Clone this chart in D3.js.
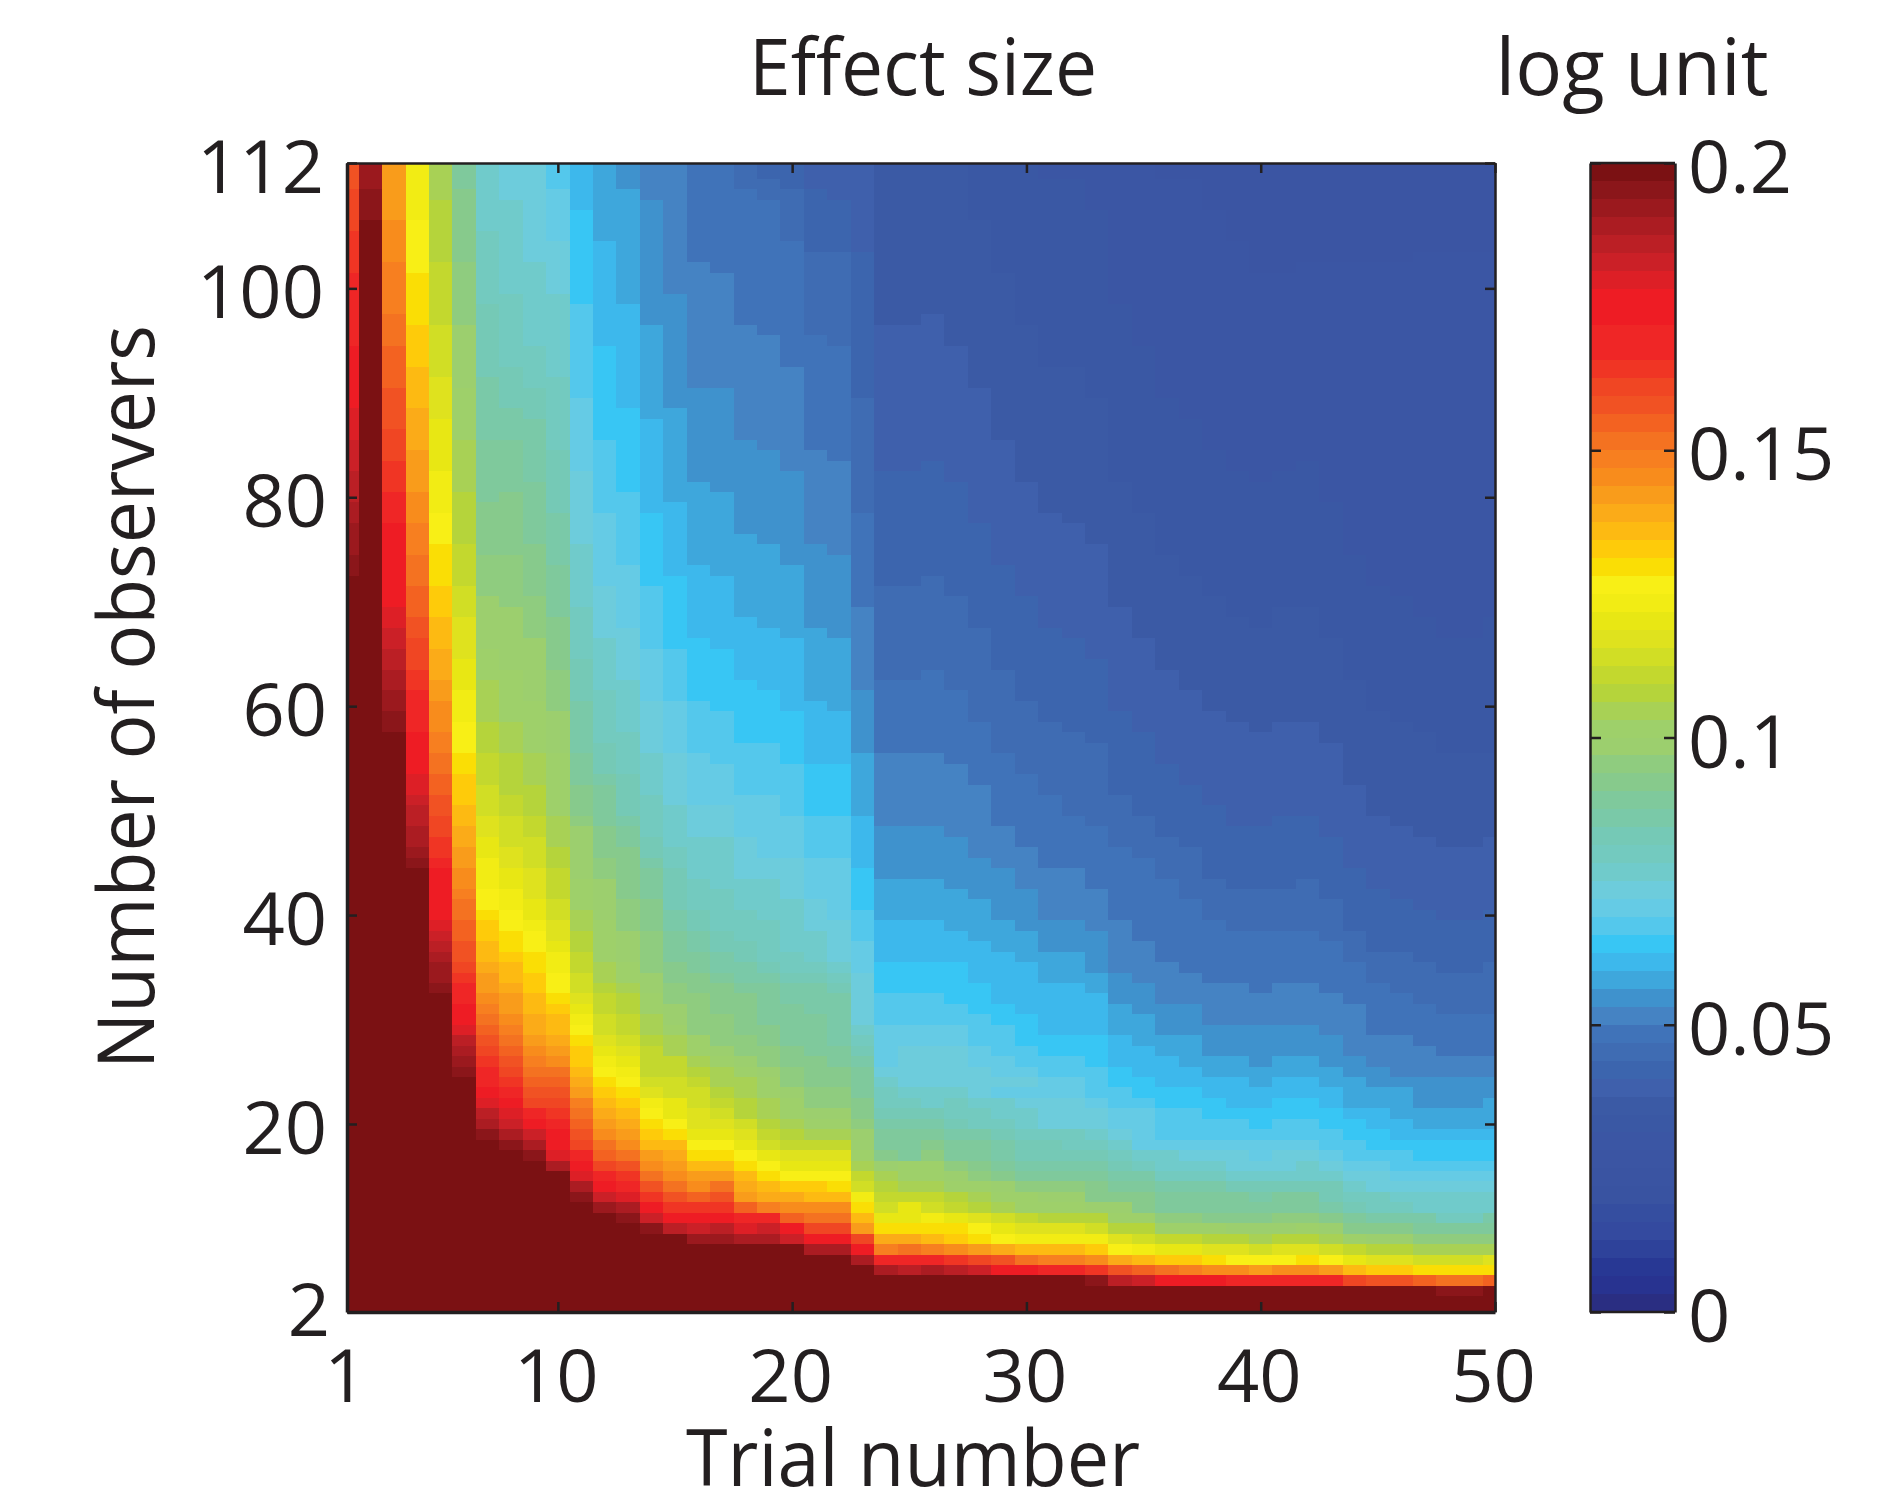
<!DOCTYPE html>
<html>
<head>
<meta charset="utf-8">
<script src="https://cdn.jsdelivr.net/npm/d3@7"></script>
<style>
  body { margin: 0; background: #fff; }
  text { font-family: "Open Sans", sans-serif; fill: #231f20; }
</style>
</head>
<body>
<script>
const xTicks = [1, 10, 20, 30, 40, 50];
const yTicks = [2, 20, 40, 60, 80, 100, 112];
const barTicks = [0, 0.05, 0.1, 0.15, 0.2];

// 64 colour steps of the bar, bottom to top
const barColors = [
  "#2a2e82", "#283390", "#283894", "#2e429a", "#344a9f", "#354ea0", "#3953a1", "#3a54a2",
  "#3b55a3", "#3b56a4", "#3a58a4", "#3b5aa5", "#3f60ac", "#3c65ae", "#3f6cb3", "#4073b9",
  "#4583c3", "#3f92cd", "#3ea7dc", "#3db8ec", "#38c6f4", "#54c8ec", "#65cbe5", "#6dccdc",
  "#70cbcb", "#73cabf", "#75c9b6", "#7ac9a8", "#7fc99c", "#87ca8c", "#8fcc7f", "#9ccf6e",
  "#9ed06a", "#a8d155", "#b5d43b", "#c3d82e", "#d1de25", "#dfe21e", "#e8e714", "#f2ec14",
  "#f8ef16", "#fade05", "#fecb0a", "#fdba12", "#fbab18", "#f99c1b", "#f88c1c", "#f77f20",
  "#f47221", "#f36221", "#f15223", "#f04623", "#f03524", "#ef2626", "#ef2626", "#ee1c24",
  "#ee1c24", "#dd1f26", "#cb2027", "#bb1f25", "#ab1c22", "#9b191e", "#8b161a", "#7b1113"
];

// trials 1-24: first number is the step at 112 observers, the rest are the
// observer counts where each next step up starts
const earlyTrials = [
  [50, 109, 105, 101, 97, 94, 91, 88, 85, 82, 79, 77, 74, 72],
  [61, 109, 106],
  [45, 106, 102, 97, 94, 90, 86, 83, 80, 78, 77, 75, 69, 67, 65, 63, 61, 59, 57],
  [39, 106, 101, 96, 92, 88, 84, 80, 77, 74, 71, 68, 66, 63, 61, 59, 57, 55, 53, 51, 50, 48, 46, 45, 44],
  [33, 108, 102, 96, 91, 87, 82, 78, 75, 71, 68, 65, 62, 60, 57, 55, 53, 51, 49, 47, 45, 44, 44, 41, 39, 38, 37, 36, 35, 33, 32],
  [28, 109, 102, 96, 90, 85, 80, 75, 71, 68, 64, 61, 58, 55, 53, 50, 48, 46, 44, 42, 41, 39, 37, 35, 34, 33, 32, 31, 30, 29, 28, 28, 27, 26, 25, 24],
  [24, 105, 98, 91, 85, 79, 74, 70, 65, 62, 58, 55, 52, 49, 47, 45, 42, 40, 39, 37, 35, 34, 32, 31, 30, 29, 28, 27, 26, 25, 24, 23, 22, 22, 21, 21, 20, 19, 19, 18],
  [23, 108, 99, 92, 88, 85, 80, 74, 69, 63, 58, 55, 51, 49, 46, 44, 42, 40, 38, 36, 35, 33, 32, 30, 29, 28, 27, 26, 25, 24, 23, 22, 22, 21, 21, 20, 19, 19, 18, 18, 17],
  [23, 102, 94, 90, 87, 81, 75, 70, 66, 60, 55, 52, 49, 47, 44, 41, 39, 38, 36, 34, 32, 30, 28, 27, 26, 25, 24, 23, 22, 21, 21, 20, 20, 19, 19, 19, 18, 18, 17, 17, 16],
  [21, 109, 104, 99, 91, 84, 78, 73, 68, 63, 59, 55, 49, 46, 44, 41, 39, 37, 36, 34, 32, 31, 30, 28, 27, 26, 25, 25, 24, 23, 22, 21, 20, 19, 19, 18, 17, 16, 16, 16, 15, 15, 15],
  [19, 107, 98, 89, 82, 75, 69, 64, 60, 55, 52, 49, 48, 43, 40, 38, 36, 34, 32, 31, 30, 29, 28, 27, 25, 24, 23, 22, 22, 21, 20, 19, 18, 17, 17, 16, 16, 15, 15, 14, 14, 14, 13, 13, 12],
  [18, 104, 94, 85, 78, 71, 66, 61, 56, 53, 52, 48, 45, 43, 39, 35, 33, 32, 30, 28, 27, 26, 25, 24, 23, 22, 21, 20, 19, 18, 18, 17, 16, 16, 15, 15, 14, 14, 13, 13, 13, 12, 12, 12, 11, 11],
  [17, 109, 98, 88, 80, 73, 67, 62, 57, 53, 49, 48, 46, 41, 38, 35, 33, 32, 30, 28, 27, 26, 25, 24, 23, 22, 21, 20, 19, 18, 17, 17, 16, 16, 15, 15, 14, 14, 13, 13, 13, 12, 12, 12, 11, 11, 10],
  [16, 108, 96, 87, 78, 71, 65, 60, 55, 51, 47, 45, 44, 41, 38, 34, 32, 30, 28, 27, 24, 23, 22, 22, 21, 20, 19, 18, 17, 17, 16, 15, 15, 14, 14, 13, 13, 12, 12, 12, 11, 11, 11, 10, 10, 10, 10, 9],
  [16, 99, 88, 79, 72, 65, 60, 55, 50, 46, 44, 40, 38, 35, 33, 31, 29, 28, 26, 26, 24, 22, 22, 20, 20, 19, 18, 18, 17, 16, 15, 14, 14, 13, 13, 12, 12, 11, 11, 11, 10, 10, 10, 10, 9, 9, 9, 9],
  [15, 102, 90, 81, 73, 66, 60, 55, 50, 47, 43, 40, 38, 36, 34, 32, 28, 28, 26, 25, 24, 23, 21, 19, 18, 18, 17, 16, 16, 15, 15, 14, 13, 13, 13, 12, 12, 12, 11, 11, 11, 11, 10, 10, 9, 9, 9, 8, 8],
  [15, 101, 90, 80, 72, 65, 59, 54, 50, 47, 42, 38, 36, 34, 33, 30, 27, 26, 25, 23, 22, 21, 20, 19, 18, 18, 17, 16, 16, 15, 15, 14, 14, 14, 13, 13, 12, 12, 11, 11, 11, 10, 10, 10, 10, 9, 9, 8, 8],
  [14, 109, 96, 85, 76, 68, 62, 56, 51, 47, 43, 40, 37, 35, 33, 32, 28, 26, 25, 24, 22, 20, 20, 19, 18, 17, 17, 16, 15, 15, 14, 13, 12, 12, 12, 12, 11, 11, 11, 11, 10, 10, 10, 10, 9, 9, 9, 8, 8, 8],
  [13, 110, 108, 95, 84, 75, 67, 61, 56, 51, 45, 43, 39, 35, 34, 33, 29, 27, 25, 24, 22, 20, 19, 18, 17, 17, 16, 16, 15, 14, 14, 13, 12, 12, 12, 11, 11, 11, 11, 11, 11, 10, 10, 10, 10, 10, 9, 9, 8, 8, 8],
  [13, 109, 104, 92, 82, 73, 66, 59, 54, 49, 45, 41, 36, 34, 33, 31, 27, 25, 23, 22, 20, 19, 18, 17, 17, 16, 15, 15, 14, 14, 13, 13, 12, 12, 11, 11, 11, 10, 10, 10, 10, 10, 10, 10, 9, 9, 8, 8, 8, 8, 8],
  [12, 109, 103, 95, 84, 75, 67, 60, 54, 49, 45, 41, 38, 35, 34, 33, 30, 26, 23, 21, 20, 19, 18, 18, 17, 17, 16, 15, 15, 14, 14, 13, 12, 12, 12, 11, 11, 10, 10, 10, 9, 9, 9, 9, 8, 8, 8, 8, 8, 7, 7, 7],
  [12, 108, 103, 94, 83, 74, 66, 59, 54, 49, 45, 39, 35, 34, 33, 32, 27, 25, 23, 21, 20, 19, 18, 18, 17, 17, 16, 15, 15, 14, 13, 13, 12, 12, 12, 11, 11, 10, 10, 10, 9, 9, 9, 9, 8, 8, 8, 8, 8, 7, 7, 7],
  [12, 103, 89, 78, 69, 61, 55, 49, 44, 40, 37, 34, 29, 28, 27, 26, 25, 22, 20, 19, 17, 16, 15, 15, 14, 13, 13, 13, 12, 12, 11, 11, 10, 10, 9, 9, 9, 9, 9, 9, 8, 8, 8, 8, 7, 7, 7, 7, 7, 6, 6, 6],
  [11, 96, 82, 71, 62, 55, 48, 43, 39, 35, 32, 29, 25, 24, 23, 21, 20, 19, 17, 16, 16, 15, 15, 14, 13, 12, 11, 11, 10, 10, 10, 9, 9, 9, 8, 8, 8, 7, 7, 7, 7, 7, 7, 6, 6, 6, 6, 6, 6, 6, 5, 5, 5]
];

// trials 25-50: for steps 9-23, the highest observer count that is at that step or above
const edge9 = [112, 112, 112, 112, 112, 112, 112, 112, 112, 112, 112, 110, 110, 107, 104, 101, 101, 102, 102, 102, 102, 102, 103, 103, 103, 103];
const edge10 = [112, 112, 112, 112, 112, 112, 110, 110, 107, 98, 94, 89, 87, 84, 82, 81, 82, 83, 79, 74, 71, 70, 68, 66, 66, 68];
const edge11 = [112, 112, 112, 106, 101, 96, 92, 92, 89, 81, 78, 74, 72, 70, 68, 67, 69, 69, 66, 62, 59, 58, 57, 55, 55, 55];
const edge12 = [96, 97, 94, 90, 85, 81, 78, 77, 75, 69, 66, 63, 61, 59, 58, 57, 58, 58, 56, 52, 49, 48, 47, 46, 46, 47];
const edge13 = [82, 83, 81, 77, 73, 70, 67, 66, 64, 59, 57, 54, 52, 50, 48, 48, 49, 49, 47, 44, 42, 41, 40, 39, 39, 40];
const edge14 = [71, 72, 70, 67, 63, 60, 58, 57, 56, 51, 49, 47, 46, 43, 42, 42, 42, 43, 41, 38, 36, 36, 35, 34, 34, 35];
const edge15 = [62, 63, 61, 58, 55, 53, 51, 49, 48, 46, 45, 43, 41, 39, 38, 38, 38, 38, 37, 35, 33, 32, 31, 30, 30, 30];
const edge16 = [55, 55, 54, 52, 48, 46, 44, 44, 42, 39, 37, 35, 34, 33, 33, 32, 33, 33, 32, 31, 28, 28, 27, 26, 26, 26];
const edge17 = [48, 48, 47, 45, 44, 42, 39, 39, 38, 34, 33, 31, 31, 29, 29, 29, 29, 29, 28, 26, 25, 24, 24, 24, 24, 24];
const edge18 = [43, 43, 42, 41, 39, 38, 36, 36, 34, 31, 30, 28, 28, 26, 26, 25, 26, 26, 25, 24, 23, 22, 21, 21, 21, 21];
const edge19 = [39, 39, 38, 37, 36, 35, 33, 33, 32, 28, 27, 26, 25, 24, 24, 23, 24, 24, 23, 22, 22, 20, 19, 19, 19, 19];
const edge20 = [35, 35, 35, 33, 31, 30, 28, 28, 28, 25, 24, 23, 23, 22, 22, 21, 22, 22, 21, 20, 19, 18, 18, 18, 18, 18];
const edge21 = [32, 32, 31, 30, 29, 27, 26, 26, 25, 23, 22, 21, 21, 20, 20, 19, 20, 20, 19, 18, 17, 16, 16, 16, 16, 16];
const edge22 = [29, 29, 29, 27, 26, 25, 24, 24, 23, 22, 21, 20, 20, 19, 19, 18, 19, 19, 18, 17, 16, 15, 15, 15, 15, 15];
const edge23 = [27, 27, 27, 25, 24, 24, 23, 23, 22, 21, 20, 19, 19, 18, 18, 17, 18, 18, 17, 16, 15, 14, 14, 14, 14, 14];
const lateEdges = [edge9, edge10, edge11, edge12, edge13, edge14, edge15, edge16, edge17, edge18, edge19, edge20, edge21, edge22, edge23];

// trials 25-50 for 4 to 23 observers, step per trial
const lateRows = [
  [63, 63, 63, 63, 63, 63, 63, 63, 63, 63, 63, 63, 63, 63, 63, 63, 63, 63, 63, 63, 63, 63, 63, 62, 62, 63],
  [63, 63, 63, 63, 63, 63, 63, 63, 62, 59, 58, 56, 56, 55, 54, 54, 53, 53, 53, 51, 50, 50, 49, 48, 48, 49],
  [59, 60, 59, 58, 56, 55, 54, 53, 52, 50, 49, 48, 47, 46, 46, 45, 46, 46, 45, 43, 42, 42, 41, 41, 41, 41],
  [53, 53, 52, 51, 50, 48, 47, 47, 46, 44, 43, 42, 42, 41, 40, 40, 40, 41, 40, 38, 37, 37, 36, 36, 36, 37],
  [48, 47, 46, 45, 44, 43, 43, 43, 42, 40, 39, 38, 38, 37, 37, 36, 37, 37, 36, 35, 34, 34, 33, 33, 33, 33],
  [44, 43, 42, 41, 40, 39, 39, 39, 39, 37, 36, 35, 35, 34, 34, 33, 34, 34, 33, 32, 31, 31, 30, 30, 30, 30],
  [41, 41, 41, 40, 38, 37, 37, 37, 36, 34, 34, 32, 32, 32, 31, 31, 31, 32, 31, 29, 29, 29, 28, 28, 28, 28],
  [38, 39, 38, 37, 36, 35, 34, 34, 34, 32, 32, 30, 30, 29, 29, 29, 30, 30, 29, 28, 27, 27, 27, 25, 25, 27],
  [38, 36, 35, 34, 33, 32, 32, 32, 31, 31, 29, 28, 28, 28, 28, 28, 28, 28, 27, 26, 25, 25, 24, 24, 24, 24],
  [35, 35, 34, 33, 32, 32, 31, 31, 29, 29, 29, 28, 28, 28, 28, 27, 28, 28, 26, 25, 25, 24, 24, 24, 24, 24],
  [33, 33, 32, 32, 31, 30, 30, 30, 29, 28, 28, 27, 27, 27, 26, 26, 26, 26, 26, 24, 23, 23, 23, 23, 23, 23],
  [32, 32, 31, 30, 29, 28, 28, 28, 28, 27, 27, 25, 25, 25, 24, 24, 24, 24, 24, 23, 23, 22, 22, 22, 22, 22],
  [32, 32, 30, 29, 28, 27, 27, 27, 27, 26, 25, 24, 24, 24, 23, 23, 23, 24, 23, 22, 22, 21, 21, 21, 21, 21],
  [28, 30, 28, 28, 27, 26, 26, 26, 26, 25, 24, 24, 23, 23, 23, 22, 23, 23, 22, 21, 21, 21, 20, 20, 20, 20],
  [28, 29, 28, 28, 27, 26, 26, 25, 25, 24, 22, 22, 22, 22, 22, 22, 22, 22, 21, 21, 20, 20, 20, 20, 20, 20],
  [28, 28, 27, 27, 26, 25, 25, 25, 24, 23, 22, 21, 21, 21, 21, 21, 21, 21, 21, 20, 20, 19, 19, 19, 19, 19],
  [27, 27, 26, 25, 25, 24, 23, 23, 23, 22, 22, 21, 21, 21, 21, 20, 21, 21, 20, 20, 19, 19, 18, 18, 18, 18],
  [26, 26, 25, 25, 24, 24, 23, 23, 23, 22, 22, 21, 21, 20, 20, 20, 20, 20, 20, 19, 19, 18, 18, 18, 18, 18],
  [25, 24, 25, 24, 24, 23, 23, 23, 22, 21, 21, 20, 20, 20, 19, 19, 20, 20, 19, 18, 18, 18, 17, 17, 17, 18],
  [24, 24, 24, 23, 22, 22, 22, 22, 21, 21, 20, 20, 20, 19, 19, 19, 19, 19, 19, 18, 18, 18, 17, 17, 17, 17]
];

const fontSize = 74;
const titleSize = 78;
const topY = 163, bottomY = 1312, leftX = 347, rightX = 1495;
const barLeft = 1590, barRight = 1675;

const x = d3.scaleLinear().domain([1, 50]).range([leftX, rightX]).clamp(true);
const y = d3.scaleLinear().domain([2, 112]).range([bottomY, topY]).clamp(true);
const barY = d3.scaleLinear().domain([0, 0.2]).range([bottomY, topY]);
const color = d3.scaleQuantize().domain([0, 0.2]).range(barColors);

// step -> log unit, middle of the colour step
const stepValue = s => (s + 0.5) * 0.2 / 64;

function stepAt(trial, n) {
  if (trial <= 24) {
    const col = earlyTrials[trial - 1];
    let s = col[0];
    for (let i = 1; i < col.length; i++) if (n <= col[i]) s = col[0] + i;
    return s;
  }
  if (n < 4) return 63;
  if (n <= 23) return lateRows[n - 4][trial - 25];
  let s = 8;
  lateEdges.forEach((edge, i) => {
    if (n <= edge[trial - 25]) s = 9 + i;
  });
  return s;
}

// neighbouring observers with the same step share one rect
const cells = [];
d3.range(1, 51).forEach(trial => {
  let from = 112;
  let s = stepAt(trial, 112);
  for (let n = 111; n >= 1; n--) {
    const next = n >= 2 ? stepAt(trial, n) : -1;
    if (next !== s) {
      cells.push({ trial, top: from, bottom: n + 1, value: stepValue(s) });
      from = n;
      s = next;
    }
  }
});

const svg = d3.select("body").append("svg").attr("width", 1900).attr("height", 1502);

svg
  .append("g")
  .selectAll("rect")
  .data(cells)
  .join("rect")
  .attr("x", d => x(d.trial - 0.5))
  .attr("width", d => x(d.trial + 0.5) - x(d.trial - 0.5))
  .attr("y", d => y(d.top + 0.5))
  .attr("height", d => y(d.bottom - 0.5) - y(d.top + 0.5))
  .attr("fill", d => color(d.value))
  .attr("shape-rendering", "crispEdges");

// colour bar
svg
  .append("g")
  .selectAll("rect")
  .data(barColors)
  .join("rect")
  .attr("x", barLeft)
  .attr("width", barRight - barLeft)
  .attr("y", (d, i) => barY((i + 1) * 0.2 / 64))
  .attr("height", (d, i) => barY(i * 0.2 / 64) - barY((i + 1) * 0.2 / 64))
  .attr("fill", d => d)
  .attr("shape-rendering", "crispEdges");

function styleAxis(g, width) {
  g.select(".domain").attr("stroke", "#231f20").attr("stroke-width", width);
  g.selectAll(".tick line").attr("stroke", "#231f20").attr("stroke-width", 2.5);
  g.selectAll("text").attr("font-size", fontSize).attr("font-family", null).attr("fill", "#231f20");
}

const noLabel = () => "";

svg
  .append("g")
  .attr("transform", `translate(0,${bottomY})`)
  .call(d3.axisBottom(x).tickValues(xTicks).tickSize(-10).tickSizeOuter(0).tickPadding(37))
  .call(styleAxis, 3.5)
  .selectAll("text")
  .attr("dx", -2);
svg
  .append("g")
  .attr("transform", `translate(0,${topY})`)
  .call(d3.axisTop(x).tickValues(xTicks).tickSize(-10).tickSizeOuter(0).tickFormat(noLabel))
  .call(styleAxis, 2.5);

svg
  .append("g")
  .attr("transform", `translate(${leftX},0)`)
  .call(d3.axisLeft(y).tickValues(yTicks).tickSize(-10).tickSizeOuter(0).tickPadding(26))
  .call(styleAxis, 3.5)
  .selectAll("text")
  .attr("dy", d => (d === 2 ? "0.32em" : "0.4em"))
  .attr("dx", d => (d === 2 ? 9 : d === 112 || d === 100 ? 3 : 6));

svg
  .append("g")
  .attr("transform", `translate(${rightX},0)`)
  .call(d3.axisRight(y).tickValues(yTicks).tickSize(-10).tickSizeOuter(0).tickFormat(noLabel))
  .call(styleAxis, 2.5);

// bar frame and ticks
svg
  .append("g")
  .attr("transform", `translate(${barRight},0)`)
  .call(d3.axisRight(barY).tickValues(barTicks).tickSize(-11).tickSizeOuter(0).tickPadding(13).tickFormat(d => String(d)))
  .call(styleAxis, 2.5)
  .selectAll("text")
  .attr("dy", "0.4em");
svg
  .append("g")
  .attr("transform", `translate(${barLeft},0)`)
  .call(d3.axisLeft(barY).tickValues(barTicks).tickSize(-11).tickSizeOuter(0).tickFormat(noLabel))
  .call(styleAxis, 2.5);
svg
  .append("path")
  .attr("d", `M${barLeft},${topY}H${barRight}M${barLeft},${bottomY}H${barRight}`)
  .attr("stroke", "#231f20")
  .attr("stroke-width", 2.5);

// titles, squeezed a little to the reference widths
function title(sel, label, width) {
  sel
    .attr("text-anchor", "middle")
    .attr("font-size", titleSize)
    .attr("textLength", width)
    .attr("lengthAdjust", "spacingAndGlyphs")
    .text(label);
}
svg.append("text").attr("x", 923).attr("y", 95).call(title, "Effect size", 348);
svg.append("text").attr("x", 1632).attr("y", 95).call(title, "log unit", 273);
svg.append("text").attr("x", 913).attr("y", 1486).call(title, "Trial number", 454);
svg.append("text").attr("transform", "translate(154,697) rotate(-90)").call(title, "Number of observers", 744);
</script>
</body>
</html>
